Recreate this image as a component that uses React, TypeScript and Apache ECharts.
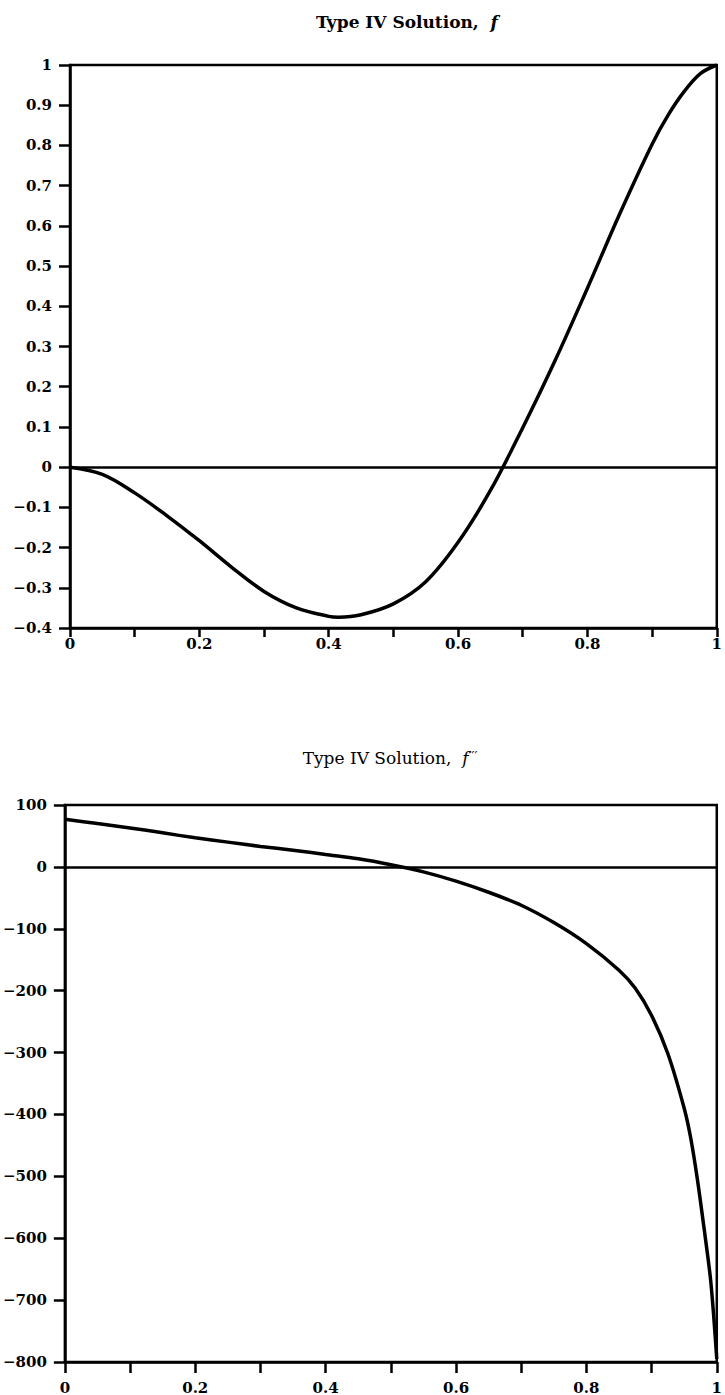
import React, { useEffect, useRef } from 'react';
import * as echarts from 'echarts';

// Type IV solution, f
const fX = [0, 0.05, 0.1, 0.15, 0.2, 0.25, 0.3, 0.35, 0.4, 0.415, 0.45, 0.5, 0.55, 0.6, 0.65, 0.7, 0.75, 0.8, 0.85, 0.9, 0.925, 0.95, 0.975, 1.0];
const fY = [0, -0.018, -0.064, -0.121, -0.183, -0.249, -0.309, -0.35, -0.371, -0.373, -0.367, -0.34, -0.285, -0.187, -0.058, 0.098, 0.265, 0.445, 0.63, 0.803, 0.876, 0.935, 0.979, 1.0];

// Type IV solution, f'''
const f3X = [0, 0.05, 0.1, 0.15, 0.2, 0.25, 0.3, 0.35, 0.4, 0.45, 0.5, 0.55, 0.6, 0.65, 0.7, 0.75, 0.8, 0.85, 0.875, 0.9, 0.925, 0.95, 0.96, 0.97, 0.98, 0.99, 0.995, 1.0];
const f3Y = [77, 70, 63, 55, 47, 40, 33, 27, 20, 13, 3.5, -8, -23, -41, -62, -90, -124, -167, -196, -240, -302, -390, -438, -503, -580, -662, -722, -795];

const titleTop = 'Type IV Solution,  ';
const titleBottom = 'Type IV Solution,  ';

const FONT = "'DejaVu Serif', serif";
const TFONT = "'DejaVu Serif', serif";

const toPairs = (xs: number[], ys: number[]) => xs.map((x, i) => [x, ys[i]]);
const minus = (s: string) => s.replace('-', '\u2212');

export default function App() {
  const ref = useRef<HTMLDivElement>(null);
  useEffect(() => {
    const chart = echarts.init(ref.current!, null, { renderer: 'svg' });
    const axisLine = { show: true, onZero: false, lineStyle: { color: '#000', width: 2.5 } };
    const labelStyle = { color: '#000', fontFamily: FONT, fontWeight: 'bold' as const, fontSize: 15 };
    const xLabelFmt = (v: number) => {
      const k = Math.round(v * 10);
      return k % 2 === 0 ? String(k / 10) : '';
    };
    const zeroLine = {
      silent: true,
      symbol: ['none', 'none'],
      label: { show: false },
      lineStyle: { color: '#000', width: 2.5, type: 'solid' as const },
      data: [{ yAxis: 0 }],
    };
    const option: any = {
      animation: false,
      backgroundColor: '#fff',
      graphic: [
        {
          type: 'text', x: 407, y: 22,
          style: {
            text: titleTop + '{i|f}',
            fontFamily: TFONT, fontSize: 17, fontWeight: 'bold', fill: '#000',
            align: 'center', verticalAlign: 'middle',
            rich: { i: { fontFamily: TFONT, fontSize: 17, fontWeight: 'bold', fontStyle: 'italic', fill: '#000' } },
          },
        },
        {
          type: 'text', x: 390, y: 758,
          style: {
            text: titleBottom + '{i|f}{p|\u2032\u2032\u2032}',
            fontFamily: TFONT, fontSize: 17, fontWeight: 'normal', fill: '#000',
            align: 'center', verticalAlign: 'middle',
            rich: {
              i: { fontFamily: TFONT, fontSize: 17, fontStyle: 'italic', fill: '#000' },
              p: { fontFamily: TFONT, fontSize: 13, fill: '#000', verticalAlign: 'top' },
            },
          },
        },
      ],
      grid: [
        { left: 70, top: 65, width: 656, height: 563, show: true, borderColor: '#000', borderWidth: 2.5, backgroundColor: 'transparent' },
        { left: 61, top: 805, width: 658, height: 558, show: true, borderColor: '#000', borderWidth: 2.5, backgroundColor: 'transparent' },
      ],
      xAxis: [
        {
          gridIndex: 0, type: 'value', min: 0, max: 1, interval: 0.1,
          axisLine, splitLine: { show: false },
          axisTick: { show: true, inside: false, length: 9, lineStyle: { color: '#000', width: 2.5 } },
          axisLabel: { ...labelStyle, margin: 8, formatter: xLabelFmt, showMinLabel: true, showMaxLabel: true },
        },
        {
          gridIndex: 1, type: 'value', min: 0, max: 1, interval: 0.1,
          axisLine, splitLine: { show: false },
          axisTick: { show: true, inside: false, length: 11, lineStyle: { color: '#000', width: 2.5 } },
          axisLabel: { ...labelStyle, margin: 18, formatter: xLabelFmt, showMinLabel: true, showMaxLabel: true },
        },
      ],
      yAxis: [
        {
          gridIndex: 0, type: 'value', min: -0.4, max: 1, interval: 0.1,
          axisLine, splitLine: { show: false },
          axisTick: { show: true, inside: false, length: 11, lineStyle: { color: '#000', width: 2.5 } },
          axisLabel: { ...labelStyle, margin: 18, formatter: (v: number) => minus(String(Number(v.toFixed(1)))) },
        },
        {
          gridIndex: 1, type: 'value', min: -800, max: 100, interval: 100,
          axisLine, splitLine: { show: false },
          axisTick: { show: true, inside: false, length: 11, lineStyle: { color: '#000', width: 2.5 } },
          axisLabel: { ...labelStyle, margin: 18, formatter: (v: number) => minus(String(v)) },
        },
      ],
      series: [
        {
          type: 'line', xAxisIndex: 0, yAxisIndex: 0,
          data: toPairs(fX, fY), smooth: 0.35, showSymbol: false, symbol: 'none',
          lineStyle: { color: '#000', width: 3.5 },
          markLine: zeroLine,
        },
        {
          type: 'line', xAxisIndex: 1, yAxisIndex: 1,
          data: toPairs(f3X, f3Y), smooth: 0.3, showSymbol: false, symbol: 'none',
          lineStyle: { color: '#000', width: 3.5 },
          markLine: zeroLine,
        },
      ],
    };
    chart.setOption(option);
    return () => chart.dispose();
  }, []);
  return (
    <div
      ref={ref}
      style={{ position: 'absolute', left: 0, top: 0, width: 725, height: 1395, background: '#fff' }}
    />
  );
}
